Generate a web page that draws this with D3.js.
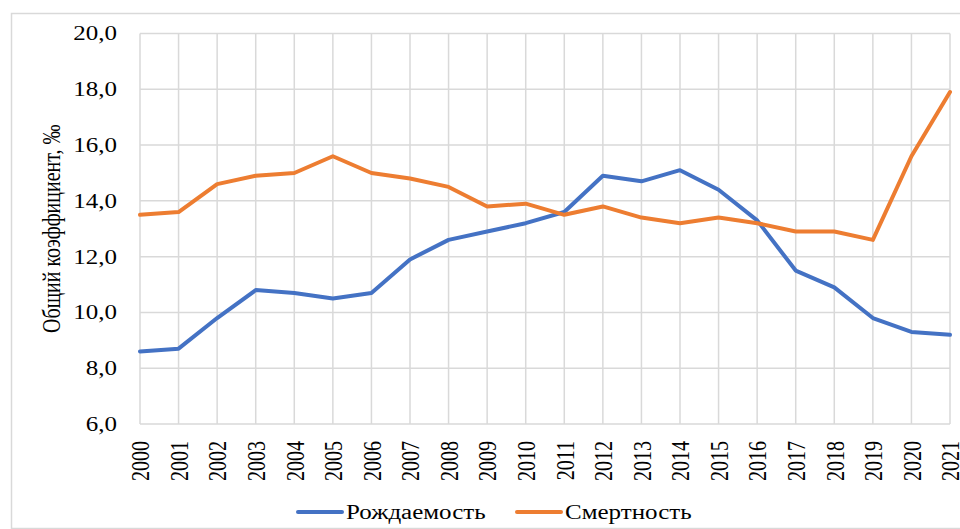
<!DOCTYPE html>
<html>
<head>
<meta charset="utf-8">
<script src="https://cdn.jsdelivr.net/npm/d3@7"></script>
<style>
  body { margin: 0; background: #fff; }
</style>
</head>
<body>
<div id="container"></div>
<script>
let w = 960;
let h = 529;

// data
let years = [2000, 2001, 2002, 2003, 2004, 2005, 2006, 2007, 2008, 2009, 2010,
             2011, 2012, 2013, 2014, 2015, 2016, 2017, 2018, 2019, 2020, 2021];
let births = [8.6, 8.7, 9.8, 10.8, 10.7, 10.5, 10.7, 11.9, 12.6, 12.9, 13.2,
              13.6, 14.9, 14.7, 15.1, 14.4, 13.3, 11.5, 10.9, 9.8, 9.3, 9.2];
let deaths = [13.5, 13.6, 14.6, 14.9, 15.0, 15.6, 15.0, 14.8, 14.5, 13.8, 13.9,
              13.5, 13.8, 13.4, 13.2, 13.4, 13.2, 12.9, 12.9, 12.6, 15.6, 17.9];
let yTicks = [6, 8, 10, 12, 14, 16, 18, 20];
let seriesNames = ["Рождаемость", "Смертность"];
let seriesColors = ["#4472C4", "#ED7D31"];

let serif = "'Liberation Serif', 'Times New Roman', 'DejaVu Serif', serif";
let stretch = 1.25; // the original picture is widened, text looks wide

let viz = d3.select("#container")
  .append("svg")
    .attr("width", w)
    .attr("height", h)
;

// outer chart frame
viz.append("rect")
  .attr("x", 11.5)
  .attr("y", 13.5)
  .attr("width", 960)
  .attr("height", 515)
  .attr("fill", "none")
  .attr("stroke", "#d9d9d9")
  .attr("stroke-width", 1.5)
;

// plot area edges (window.top is taken, so prefixed names)
let plotLeft = 140, plotRight = 950, plotTop = 33.5, plotBottom = 424;

let xScale = d3.scaleLinear().domain([2000, 2021]).range([plotLeft, plotRight]);
let yScale = d3.scaleLinear().domain([6, 20]).range([plotBottom, plotTop]);

// horizontal gridlines
viz.append("g")
  .selectAll("line").data(yTicks).enter()
  .append("line")
    .attr("x1", plotLeft).attr("x2", plotRight)
    .attr("y1", d => yScale(d)).attr("y2", d => yScale(d))
    .attr("stroke", "#d9d9d9").attr("stroke-width", 1.5)
;

// vertical gridlines, one per year
viz.append("g")
  .selectAll("line").data(years).enter()
  .append("line")
    .attr("x1", d => xScale(d)).attr("x2", d => xScale(d))
    .attr("y1", plotTop).attr("y2", plotBottom)
    .attr("stroke", "#d9d9d9").attr("stroke-width", 1.5)
;

// y tick labels
let yAxis = d3.axisLeft(yScale)
  .tickValues(yTicks)
  .tickSize(0)
  .tickPadding(0)
  .tickFormat(d => d3.format(".1f")(d).replace(".", ","));

let yG = viz.append("g")
  .attr("transform", "translate(" + plotLeft + ",0)")
  .call(yAxis);
yG.select(".domain").remove();
yG.selectAll("text")
  .attr("font-family", serif)
  .attr("font-size", 20)
  .attr("fill", "#000")
  .attr("x", 0)
  .attr("transform", "translate(-23,0) scale(" + stretch + ",1)");

// x tick labels, rotated
let xAxis = d3.axisBottom(xScale)
  .tickValues(years)
  .tickSize(0)
  .tickFormat(d3.format("d"));

let xG = viz.append("g")
  .attr("transform", "translate(0," + plotBottom + ")")
  .call(xAxis);
xG.select(".domain").remove();
xG.selectAll("text")
  .attr("font-family", serif)
  .attr("font-size", 20)
  .attr("fill", "#000")
  .attr("text-anchor", "end")
  .attr("dy", "0.35em")
  .attr("y", 0)
  .attr("transform", "translate(0,17) scale(" + stretch + ",1) rotate(-90)");

// y axis title
viz.append("text")
  .attr("transform", "translate(60," + ((plotTop + plotBottom) / 2) + ") scale(" + stretch + ",1) rotate(-90)")
  .attr("text-anchor", "middle")
  .attr("font-family", serif)
  .attr("font-size", 20)
  .text("Общий коэффициент, ‰");

// the two lines
let line = d3.line()
  .x((d, i) => xScale(years[i]))
  .y(d => yScale(d));

[births, deaths].forEach(function (series, k) {
  viz.append("path")
    .datum(series)
    .attr("d", line)
    .attr("fill", "none")
    .attr("stroke", seriesColors[k])
    .attr("stroke-width", 4)
    .attr("stroke-linejoin", "round")
    .attr("stroke-linecap", "round");
});

// legend
let legendX = [298, 517];
let legend = viz.selectAll(".legend").data(seriesNames).enter()
  .append("g")
    .attr("class", "legend")
    .attr("transform", (d, i) => "translate(" + legendX[i] + ",512)");

legend.append("line")
  .attr("x1", 0).attr("x2", 44)
  .attr("y1", 0).attr("y2", 0)
  .attr("stroke", (d, i) => seriesColors[i])
  .attr("stroke-width", 4)
  .attr("stroke-linecap", "round");

legend.append("text")
  .attr("transform", "translate(48,0) scale(" + stretch + ",1)")
  .attr("dy", "0.35em")
  .attr("font-family", serif)
  .attr("font-size", 20)
  .text(d => d);
</script>
</body>
</html>
